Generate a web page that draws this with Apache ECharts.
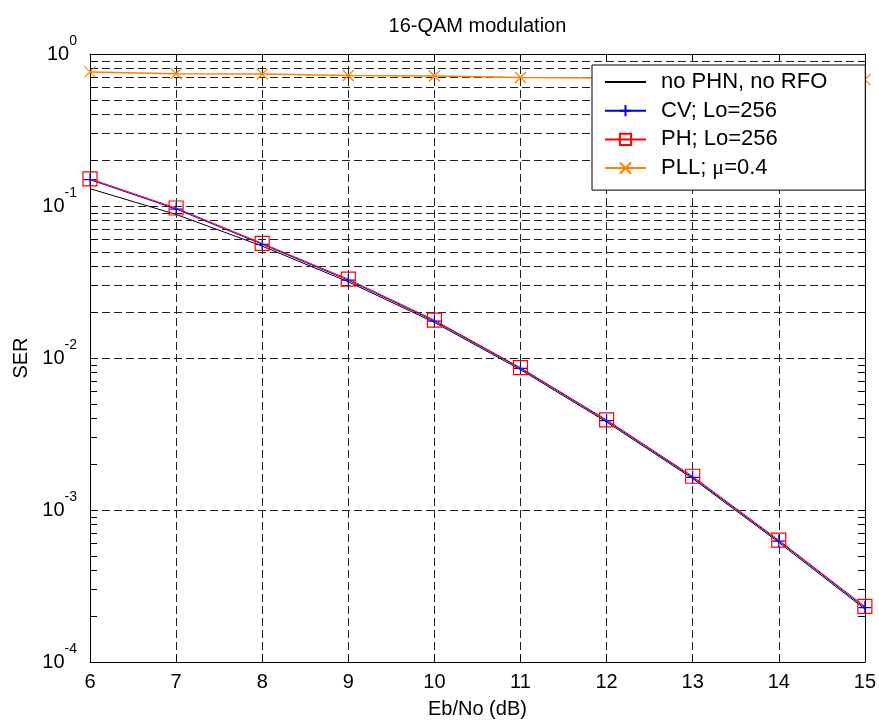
<!DOCTYPE html>
<html><head><meta charset="utf-8">
<script src="https://cdn.jsdelivr.net/npm/echarts@6/dist/echarts.min.js"></script>
<style>html,body{margin:0;padding:0;background:#fff}#c{width:879px;height:724px}</style>
</head><body><div id="c"></div>
<script>
// ---- data ----
const ebno = [6, 7, 8, 9, 10, 11, 12, 13, 14, 15];
const serIdeal = [0.130, 0.088, 0.0545, 0.0317, 0.01714, 0.00838, 0.00379, 0.00161, 0.000612, 0.000223];
const serCV    = [0.149, 0.0955, 0.0560, 0.0325, 0.0175, 0.00855, 0.00387, 0.00164, 0.000625, 0.000228];
const serPH    = [0.151, 0.097, 0.0568, 0.0330, 0.01775, 0.00864, 0.00392, 0.001667, 0.000634, 0.000232];
const serPLL   = [0.762, 0.742, 0.738, 0.722, 0.717, 0.700, 0.695, 0.690, 0.685, 0.678];
const seriesNames = ['no PHN, no RFO', 'CV; Lo=256', 'PH; Lo=256', 'PLL; μ=0.4'];
const titleText = '16-QAM modulation';
const xName = 'Eb/No (dB)';
const yName = 'SER';
const xMin = 6, xMax = 15, xStep = 1;
const yMinExp = -4, yMaxExp = 0;

// minor log grid values (2..9 x 10^e)
const minorVals = [];
for (let e = yMinExp; e < yMaxExp; e++) for (let k = 2; k <= 9; k++) minorVals.push(+(k * Math.pow(10, e)).toPrecision(6));

const FONT = 'Liberation Sans, Arial, sans-serif';
const gridDash = { color: '#222', width: 1, type: [8, 4] };
const tickLen = 7;
const tickFrac = tickLen / ((865 - 90) / (xMax - xMin));

const pair = (arr) => ebno.map((x, i) => [x, arr[i]]);

const minorGrid = minorVals.map(v => ({ yAxis: v, lineStyle: gridDash }));
const minorTicks = [];
minorVals.forEach(v => {
  minorTicks.push([{ coord: [xMin, v] }, { coord: [xMin + tickFrac, v] }]);
  minorTicks.push([{ coord: [xMax - tickFrac, v] }, { coord: [xMax, v] }]);
});

const plusPath = 'path://M5,0L5,10M0,5L10,5';
const xPath = 'path://M0,0L10,10M10,0L0,10';
const sqPath = 'path://M0,0L10,0L10,10L0,10Z';

const chart = echarts.init(document.getElementById('c'), null, { renderer: 'canvas' });
const axisCommon = {
  axisLine: { show: true, onZero: false, lineStyle: { color: '#000', width: 1 } },
  axisTick: { show: true, inside: true, length: tickLen, lineStyle: { color: '#000' } },
};
chart.setOption({
  animation: false,
  backgroundColor: '#fff',
  textStyle: { fontFamily: FONT, color: '#000' },
  grid: { left: 90, right: 14, top: 54, bottom: 60, containLabel: false },
  legend: {
    orient: 'vertical', left: 592, top: 65, z: 20,
    padding: [6, 38, 11, 12], itemGap: 6.7,
    itemWidth: 41, itemHeight: 14,
    backgroundColor: '#fff', borderColor: '#000', borderWidth: 1,
    selectedMode: false,
    textStyle: { fontSize: 22, color: '#000', fontFamily: FONT, padding: [0, 0, 0, 10],
      rich: { m: { fontFamily: 'Liberation Serif, serif', fontSize: 22, color: '#000' } } },
    formatter: n => n.replace('μ', '{m|μ}'),
    data: seriesNames
  },
  xAxis: [
    Object.assign({
      type: 'value', position: 'bottom', min: xMin, max: xMax, interval: xStep,
      axisLabel: { fontSize: 20, margin: 10, color: '#000', fontFamily: FONT },
      splitLine: { show: true, lineStyle: gridDash },
      name: xName, nameLocation: 'middle', nameGap: 37,
      nameTextStyle: { fontSize: 20, color: '#000', fontFamily: FONT }
    }, axisCommon),
    Object.assign({
      type: 'value', position: 'top', min: xMin, max: xMax, interval: xStep,
      axisLabel: { show: false }, splitLine: { show: false },
      name: titleText, nameLocation: 'middle', nameGap: 18,
      nameTextStyle: { fontSize: 20, color: '#000', fontFamily: FONT }
    }, axisCommon)
  ],
  yAxis: [
    Object.assign({
      type: 'log', logBase: 10, position: 'left', min: Math.pow(10, yMinExp), max: Math.pow(10, yMaxExp),
      splitLine: { show: true, lineStyle: gridDash },
      axisLabel: {
        margin: 13, color: '#000',
        formatter: v => '{b|10}{s|' + Math.round(Math.log10(v)) + '}',
        rich: {
          b: { fontSize: 20, lineHeight: 40, fontFamily: FONT, color: '#000' },
          s: { fontSize: 14, verticalAlign: 'top', fontFamily: FONT, color: '#000' }
        }
      },
      name: yName, nameLocation: 'middle', nameGap: 52,
      nameTextStyle: { fontSize: 20, color: '#000', fontFamily: FONT }
    }, axisCommon),
    Object.assign({
      type: 'log', logBase: 10, position: 'right', min: Math.pow(10, yMinExp), max: Math.pow(10, yMaxExp),
      splitLine: { show: false }, axisLabel: { show: false }
    }, axisCommon)
  ],
  series: [
    {
      name: seriesNames[0], type: 'line', data: pair(serIdeal), showSymbol: false, symbol: 'circle', symbolSize: 0,
      lineStyle: { color: '#000', width: 1 }, itemStyle: { color: 'rgba(0,0,0,0)', borderWidth: 0 },
      emphasis: { disabled: true }, z: 3,
      markLine: {
        silent: true, symbol: ['none', 'none'], label: { show: false }, animation: false,
        emphasis: { disabled: true },
        data: minorGrid.concat(minorTicks.map(p => [
          Object.assign({}, p[0], { lineStyle: { color: '#000', width: 1, type: 'solid' } }), p[1]
        ]))
      }
    },
    {
      name: seriesNames[1], type: 'line', data: pair(serCV), symbol: plusPath, symbolSize: 13,
      lineStyle: { color: '#0000ff', width: 1 },
      itemStyle: { color: 'rgba(0,0,0,0)', borderColor: '#0000ff', borderWidth: 1.2 },
      emphasis: { disabled: true }, z: 4
    },
    {
      name: seriesNames[2], type: 'line', data: pair(serPH), symbol: sqPath, symbolSize: 14,
      lineStyle: { color: '#ff0000', width: 1 },
      itemStyle: { color: 'rgba(0,0,0,0)', borderColor: '#ff0000', borderWidth: 1.2 },
      emphasis: { disabled: true }, z: 5
    },
    {
      name: seriesNames[3], type: 'line', data: pair(serPLL), symbol: xPath, symbolSize: 11,
      lineStyle: { color: '#ff8000', width: 1.5 },
      itemStyle: { color: 'rgba(0,0,0,0)', borderColor: '#ff8000', borderWidth: 1.2 },
      emphasis: { disabled: true }, z: 6
    }
  ]
});
</script>
</body></html>
